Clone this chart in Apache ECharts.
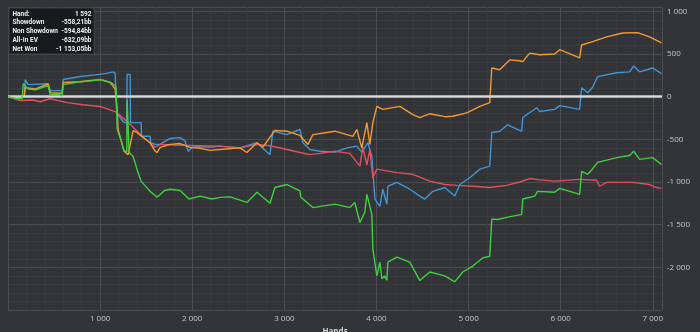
<!DOCTYPE html>
<html>
<head>
<meta charset="utf-8">
<script src="https://cdn.jsdelivr.net/npm/echarts@6/dist/echarts.min.js"></script>
<style>
html,body{margin:0;padding:0;background:#323438;overflow:hidden;}
#c{width:700px;height:332px;}
</style>
</head>
<body>
<div id="c"></div>
<script>
// ---- data: [hand, big blinds] ----
const seriesNames = ['Showdown', 'Non Showdown', 'All-In EV', 'Net Won'];

const showdown = [[0,0],[176,0],[187,200],[219,140],[436,150],[458,70],[588,70],[599,200],[783,235],[946,255],[1054,270],[1141,290],[1163,275],[1174,270],[1180,-190],[1255,-300],[1290,-305],[1293,260],[1326,260],[1330,-305],[1445,-305],[1450,-465],[1542,-465],[1550,-540],[1592,-558],[1651,-560],[1759,-490],[1868,-480],[1922,-520],[1955,-640],[1998,-595],[2085,-585],[2193,-595],[2302,-580],[2518,-600],[2703,-540],[2844,-680],[2876,-405],[3028,-445],[3169,-385],[3202,-540],[3278,-620],[3386,-640],[3549,-650],[3679,-600],[3787,-580],[3841,-650],[3907,-540],[3950,-700],[3983,-1200],[4037,-1285],[4069,-1085],[4113,-1260],[4124,-1050],[4221,-1005],[4362,-1085],[4471,-1165],[4525,-1200],[4612,-1110],[4742,-1065],[4850,-1165],[4905,-1030],[5013,-950],[5122,-850],[5230,-815],[5252,-420],[5338,-405],[5425,-330],[5523,-380],[5577,-405],[5588,-245],[5740,-130],[5772,-175],[5935,-150],[5989,-105],[6206,-150],[6228,105],[6293,45],[6347,110],[6401,235],[6607,280],[6748,290],[6792,360],[6857,290],[6998,335],[7095,270]];

const nonShowdown = [[0,0],[132,-45],[273,-40],[349,-60],[458,-25],[642,-70],[816,-95],[1000,-115],[1163,-175],[1185,-190],[1326,-325],[1456,-465],[1542,-540],[1592,-595],[1651,-560],[1868,-570],[2085,-575],[2302,-580],[2518,-600],[2703,-560],[2844,-575],[3028,-620],[3169,-655],[3278,-680],[3386,-665],[3549,-640],[3711,-665],[3820,-815],[3852,-590],[3896,-800],[3928,-620],[3961,-950],[4004,-850],[4221,-890],[4395,-910],[4579,-990],[4742,-1030],[4872,-1040],[5046,-1050],[5230,-1065],[5414,-1040],[5555,-1000],[5664,-960],[5772,-975],[5935,-990],[6206,-970],[6390,-980],[6423,-1050],[6499,-1005],[6781,-1005],[6965,-1030],[7041,-1065],[7095,-1075]];

const allInEV = [[0,0],[176,0],[187,105],[300,90],[436,150],[458,45],[588,40],[599,165],[783,175],[1000,200],[1109,165],[1163,90],[1185,-150],[1195,-385],[1260,-640],[1304,-680],[1358,-400],[1400,-420],[1445,-460],[1542,-540],[1592,-632],[1618,-655],[1651,-595],[1759,-560],[1868,-550],[1976,-595],[2085,-605],[2193,-630],[2302,-620],[2518,-600],[2594,-655],[2703,-540],[2768,-590],[2898,-395],[3028,-405],[3169,-455],[3256,-560],[3310,-445],[3549,-405],[3744,-465],[3787,-385],[3841,-600],[3896,-305],[3928,-560],[3961,-305],[4004,-115],[4069,-150],[4254,-115],[4395,-210],[4471,-245],[4579,-200],[4742,-235],[4829,-230],[4981,-190],[5122,-115],[5230,-70],[5252,335],[5338,315],[5447,430],[5555,420],[5588,410],[5664,510],[5772,490],[5935,500],[5989,550],[6206,455],[6228,605],[6347,645],[6499,700],[6672,745],[6835,750],[6965,700],[7095,630]];

const netWon = [[0,0],[80,-20],[154,-25],[165,150],[219,90],[300,80],[436,130],[458,20],[540,30],[588,10],[599,140],[700,160],[783,175],[900,185],[1000,200],[1109,170],[1163,130],[1174,100],[1185,-380],[1230,-520],[1260,-640],[1290,-640],[1293,-35],[1304,-35],[1315,-655],[1358,-700],[1400,-850],[1445,-990],[1542,-1110],[1592,-1153],[1618,-1180],[1700,-1100],[1759,-1085],[1868,-1100],[1965,-1200],[2085,-1165],[2215,-1200],[2302,-1180],[2410,-1175],[2594,-1240],[2703,-1120],[2844,-1250],[2898,-1065],[3028,-1030],[3169,-1105],[3180,-1180],[3310,-1300],[3549,-1260],[3711,-1300],[3765,-1240],[3820,-1475],[3874,-1355],[3896,-1145],[3950,-1380],[3961,-1785],[4004,-2100],[4037,-1940],[4059,-2135],[4091,-2100],[4113,-2155],[4124,-1940],[4221,-1880],[4362,-1940],[4471,-2155],[4579,-2055],[4742,-2100],[4850,-2170],[4937,-2055],[5046,-1985],[5154,-1890],[5230,-1870],[5252,-1435],[5317,-1440],[5414,-1415],[5577,-1380],[5588,-1200],[5718,-1165],[5750,-1110],[5935,-1120],[5989,-1075],[6206,-1145],[6228,-875],[6293,-910],[6336,-860],[6401,-770],[6607,-715],[6748,-690],[6792,-640],[6857,-735],[6998,-715],[7095,-795]];

const infoLabels = ['Hand:', 'Showdown', 'Non Showdown', 'All-In EV', 'Net Won'];
const infoValues = ['1 592', '-558,21bb', '-594,84bb', '-632,09bb', '-1 153,05bb'];

const xTicks = [1000, 2000, 3000, 4000, 5000, 6000, 7000];
const yTicks = [-2000, -1500, -1000, -500, 0, 500, 1000];

// ---- chart ----
const colors = ['#4396d4', '#e0505f', '#f29b32', '#3fd13f'];
const FONT = 'Open Sans';
function fmt(v) {
  const s = Math.abs(Math.round(v)).toString().replace(/\B(?=(\d{3})+(?!\d))/g, ' ');
  return (v < 0 ? '-' : '') + s;
}
const allData = [showdown, nonShowdown, allInEV, netWon];
const series = allData.map((d, i) => ({
  name: seriesNames[i],
  type: 'line',
  data: d,
  showSymbol: false,
  symbol: 'none',
  lineStyle: { color: colors[i], width: 1.4 },
  itemStyle: { color: colors[i] },
  z: 2 + i,
  animation: false
}));
series.push({
  type: 'line', data: [], z: 10, animation: false,
  markLine: {
    silent: true, symbol: 'none', label: { show: false },
    lineStyle: { color: '#d8d8d8', width: 2.5, type: 'solid' },
    data: [{ yAxis: 0 }]
  }
});

const graphic = [{
  type: 'rect', shape: { x: 9, y: 8, width: 85, height: 46 },
  style: { fill: 'rgba(24,25,28,0.96)', stroke: '#3c3e42', lineWidth: 1 }, z: 100
}];
infoLabels.forEach((t, i) => {
  graphic.push({ type: 'text', x: 12.5, y: 14 + i * 8.8, z: 101,
    style: { text: t, fill: '#ececec', font: 'bold 6.5px Roboto', textVerticalAlign: 'middle' } });
  graphic.push({ type: 'text', x: 91.5, y: 14 + i * 8.8, z: 101,
    style: { text: infoValues[i], fill: '#ececec', font: 'bold 6.5px Roboto', textAlign: 'right', textVerticalAlign: 'middle' } });
});

const chart = echarts.init(document.getElementById('c'), null, { renderer: 'canvas' });
chart.setOption({
  backgroundColor: '#323438',
  animation: false,
  grid: { left: 8, right: 38, top: 7, bottom: 22, containLabel: false, outerBoundsMode: 'none' },
  xAxis: {
    type: 'value', min: 0, max: 7100, interval: 1000,
    name: 'Hands', nameLocation: 'middle', nameGap: 15,
    nameTextStyle: { color: '#d0d0d0', fontSize: 8, fontWeight: 'bold', fontFamily: FONT },
    axisLine: { show: false }, axisTick: { show: false },
    axisLabel: { color: '#c8c8c8', fontSize: 8, fontFamily: FONT, margin: 5,
      showMinLabel: false, showMaxLabel: false,
      formatter: v => xTicks.includes(v) ? fmt(v) : '' },
    splitLine: { show: true, lineStyle: { color: '#4b4e53', width: 1 } },
    minorTick: { show: false, splitNumber: 5 },
    minorSplitLine: { show: true, lineStyle: { color: '#393b3f', width: 1 } }
  },
  yAxis: {
    type: 'value', position: 'right', min: -2500, max: 1050, interval: 500,
    name: 'Big Blinds', nameLocation: 'middle', nameGap: 30, nameRotate: -90,
    nameTextStyle: { color: '#d0d0d0', fontSize: 8, fontWeight: 'bold', fontFamily: FONT },
    axisLine: { show: false }, axisTick: { show: false },
    axisLabel: { color: '#c8c8c8', fontSize: 8, fontFamily: FONT, margin: 5,
      showMinLabel: false, showMaxLabel: false,
      formatter: v => yTicks.includes(v) ? fmt(v) : '' },
    splitLine: { show: true, lineStyle: { color: '#4b4e53', width: 1 } },
    minorTick: { show: false, splitNumber: 5 },
    minorSplitLine: { show: true, lineStyle: { color: '#393b3f', width: 1 } }
  },
  series: series,
  graphic: graphic
});
</script>
</body>
</html>
